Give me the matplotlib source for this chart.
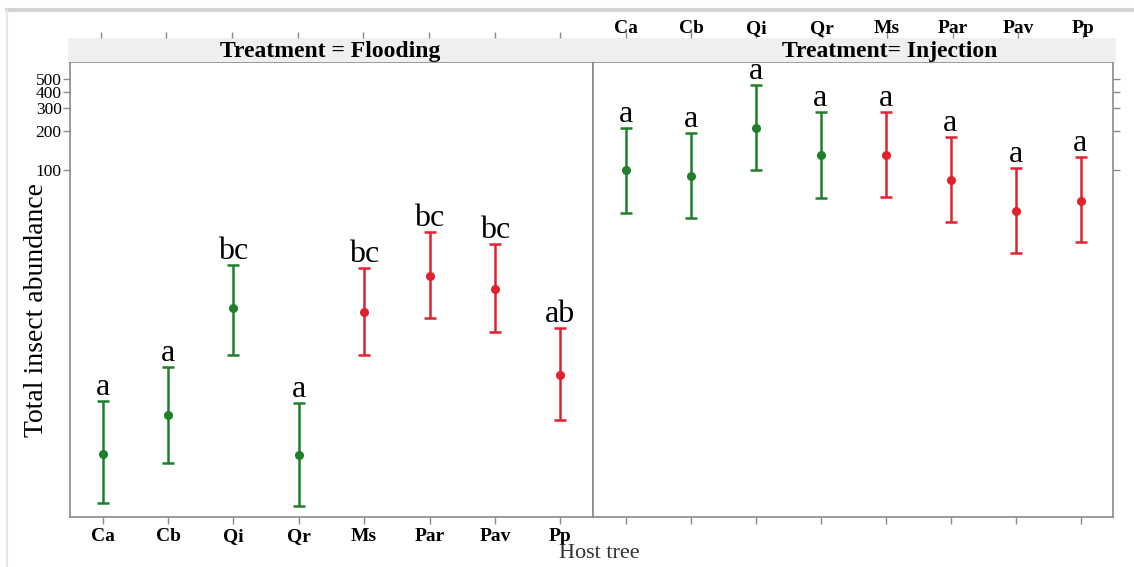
import numpy as np
import matplotlib
matplotlib.use("Agg")
import matplotlib.pyplot as plt
from matplotlib.lines import Line2D

plt.rcParams['font.family'] = ['Liberation Serif', 'DejaVu Serif']

hosts = ["Ca", "Cb", "Qi", "Qr", "Ms", "Par", "Pav", "Pp"]
host_colors = ["#1f7f2a"] * 4 + ["#e0222e"] * 4

# flooding: mean, lower and upper limits
flood_mean = [0.67, 1.32, 8.8, 0.65, 8.2, 15.5, 12.4, 2.7]
flood_low = [0.28, 0.57, 3.85, 0.265, 3.8, 7.3, 5.7, 1.21]
flood_high = [1.69, 3.08, 18.9, 1.63, 17.9, 33.7, 27.3, 6.2]
flood_letters = ["a", "a", "bc", "a", "bc", "bc", "bc", "ab"]

# injection
inj_mean = [100, 91, 212, 131, 132, 84.5, 48.6, 58.6]
inj_low = [47.2, 43.0, 100, 61.8, 62.9, 40.0, 23.1, 28.1]
inj_high = [213, 194, 454, 280, 283, 181, 105, 126]
inj_letters = ["a"] * 8

ytick_vals = [100, 200, 300, 400, 500]

W, H = 1134, 567
fig = plt.figure(figsize=(W / 100, H / 100), dpi=100)

def box(x0, y0, x1, y1):
    # pixel box (top-left origin) -> figure fractions
    return [x0 / W, 1 - y1 / H, (x1 - x0) / W, (y1 - y0) / H]

spine_col = "#8a8a8a"
ax1 = fig.add_axes(box(70, 62, 593, 517))
ax2 = fig.add_axes(box(593, 62, 1113, 517))
st1 = fig.add_axes(box(68, 38, 593, 62))
st2 = fig.add_axes(box(593, 38, 1116, 62))

x = np.arange(len(hosts))

def draw_panel(ax, mean, low, high, letters):
    mean = np.array(mean)
    yerr = [mean - np.array(low), np.array(high) - mean]
    for i in range(len(hosts)):
        ax.errorbar(x[i], mean[i], yerr=[[yerr[0][i]], [yerr[1][i]]], fmt="o",
                    color=host_colors[i], ms=5.5, lw=1.8, capsize=4.3, capthick=1.8)
        ax.annotate(letters[i], (x[i], high[i]), xytext=(0, 4.3), textcoords="offset points",
                    ha="center", va="baseline", fontsize=23, annotation_clip=False)
    ax.set_yscale("log")
    ax.set_ylim(0.218, 681)
    ax.set_xlim(-0.5, 7.5)
    ax.minorticks_off()
    for s in ax.spines.values():
        s.set_color(spine_col)
        s.set_linewidth(1.2)
    ax.set_xticks(x)
    ax.tick_params(axis="both", colors=spine_col, length=5, width=1)

draw_panel(ax1, flood_mean, flood_low, flood_high, flood_letters)
draw_panel(ax2, inj_mean, inj_low, inj_high, inj_letters)

ax1.set_yticks(ytick_vals)
ax1.set_yticklabels([str(v) for v in ytick_vals], fontsize=12.5, color="black")
ax1.set_xticklabels(hosts, fontsize=14, fontweight="bold", color="black")
ax1.tick_params(axis="x", pad=3, labelcolor="black")
ax1.tick_params(axis="y", pad=1, labelcolor="black")
ax1.set_ylabel("Total insect abundance", fontsize=20)
ax1.yaxis.set_label_coords(-0.04, 0.455)

ax2.set_yticks(ytick_vals)
ax2.yaxis.tick_right()
ax2.set_yticklabels([])
ax2.set_xticklabels([])

for st, title, tx in [(st1, "Treatment = Flooding", 0.5), (st2, "Treatment= Injection", 0.568)]:
    st.set_facecolor("#efefef")
    st.set_xlim(-0.5, 7.5)
    st.set_ylim(0, 1)
    st.set_yticks([])
    for s in st.spines.values():
        s.set_visible(False)
    st.xaxis.tick_top()
    st.set_xticks(x)
    st.tick_params(axis="x", colors=spine_col, length=4, width=1, pad=-3)
    st.text(tx, 0.45, title, transform=st.transAxes, ha="center", va="center",
            fontsize=17, fontweight="bold")
st1.set_xticklabels([])
st2.set_xticklabels(hosts, fontsize=14, fontweight="bold")
st2.tick_params(axis="x", labelcolor="black")

fig.text(599 / W, 1 - 554 / H, "Host tree", ha="center", va="center", fontsize=16, color="#333333")

# outer frame of the original figure
fig.add_artist(Line2D([7 / W, 1], [1 - 10 / H, 1 - 10 / H], transform=fig.transFigure,
                      color="#d4d4d4", lw=3))
fig.add_artist(Line2D([7 / W, 7 / W], [0, 1 - 10 / H], transform=fig.transFigure,
                      color="#ebe6d8", lw=1.5))

fig.savefig("out.png", dpi=100)
